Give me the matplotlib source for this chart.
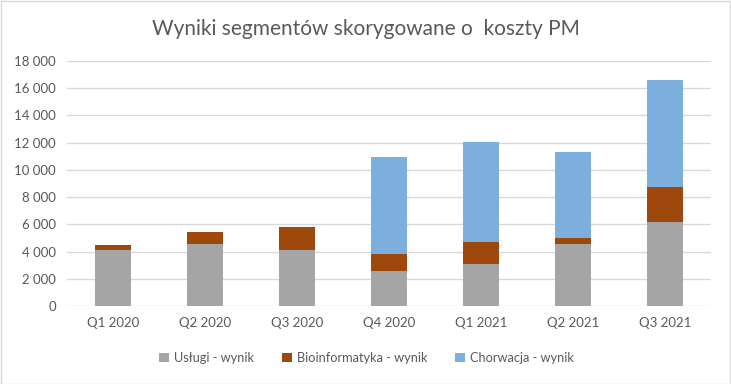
import matplotlib
matplotlib.use("Agg")
import matplotlib.pyplot as plt
import numpy as np
from matplotlib.patches import Rectangle

quarters = ["Q1 2020", "Q2 2020", "Q3 2020", "Q4 2020", "Q1 2021", "Q2 2021", "Q3 2021"]
uslugi = [4110, 4580, 4110, 2570, 3090, 4560, 6170]
bioinf = [370, 860, 1690, 1250, 1610, 440, 2570]
chorwacja = [0, 0, 0, 7130, 7350, 6320, 7870]
labels = ["Usługi - wynik", "Bioinformatyka - wynik", "Chorwacja - wynik"]
colors = ["#a5a5a5", "#9e480e", "#7cafdd"]

plt.rcParams['font.family'] = ['Lato', 'DejaVu Sans']
txt = "#595959"

fig = plt.figure(figsize=(7.31, 3.84), dpi=100)
ax = fig.add_axes([0.0917, 0.203, 0.881, 0.638])

x = np.arange(len(quarters))
bottom = np.zeros(len(quarters))
for vals, lab, c in zip([uslugi, bioinf, chorwacja], labels, colors):
    ax.bar(x, vals, 0.4, bottom=bottom, color=c, label=lab, zorder=3)
    bottom += np.array(vals)

ax.set_xlim(-0.5, len(quarters) - 0.5)
ax.set_ylim(0, 18000)
ax.set_yticks(range(0, 18001, 2000))
ax.set_yticklabels([f"{v:,}".replace(",", " ") for v in range(0, 18001, 2000)])
ax.set_xticks(x)
ax.set_xticklabels(quarters)
ax.grid(axis="y", color="#d9d9d9", linewidth=1, zorder=0)
for s in ax.spines.values():
    s.set_visible(False)
ax.tick_params(length=0, labelsize=9.5, colors=txt, pad=8)
ax.tick_params(axis="x", pad=8)

fig.text(0.5, 0.925, "Wyniki segmentów skorygowane o  koszty PM", ha="center", va="center",
         fontsize=15, color=txt)
ax.legend(loc="upper center", bbox_to_anchor=(0.465, -0.14), ncol=3, frameon=False,
          fontsize=9.2, labelcolor=txt, handlelength=0.75, handleheight=0.75,
          columnspacing=2.2, handletextpad=0.4)

fig.patches.append(Rectangle((0.001, 0.001), 0.997, 0.997, transform=fig.transFigure,
                             fill=False, edgecolor="#d9d9d9", linewidth=1))
fig.savefig("out.png", dpi=100)
